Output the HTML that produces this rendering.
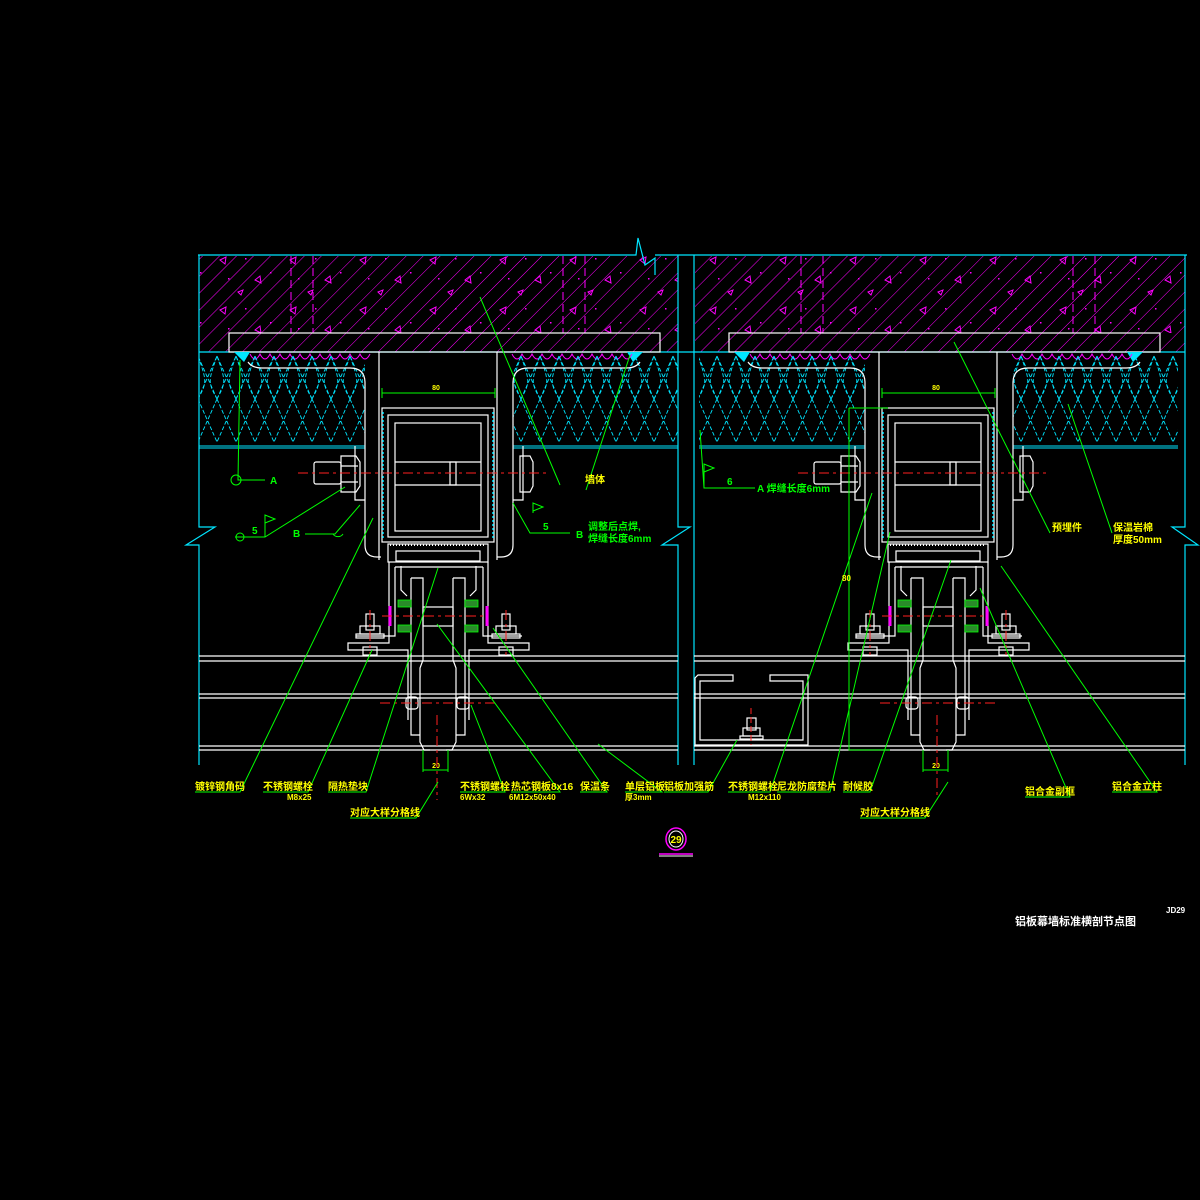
<!DOCTYPE html>
<html><head><meta charset="utf-8"><style>
html,body{margin:0;padding:0;background:#000;}
svg{display:block}
text{font-family:"Liberation Sans","Noto Sans CJK SC",sans-serif;font-weight:bold}
</style></head><body>
<svg width="1200" height="1200" viewBox="0 0 1200 1200" xmlns="http://www.w3.org/2000/svg">
<defs>
<pattern id="hatch" patternUnits="userSpaceOnUse" width="12" height="12" patternTransform="rotate(45)">
<line x1="0" y1="0" x2="0" y2="12" stroke="#ff00ff" stroke-width="1"/>
</pattern>
<pattern id="specks" patternUnits="userSpaceOnUse" width="70" height="50">
<path d="M10,10 l6,-3 l-1,7 z M45,30 l5,-4 l1,7 z M28,42 l5,-2 l-2,5 z" fill="none" stroke="#ff00ff" stroke-width="1"/>
<rect x="35" y="8" width="1.5" height="1.5" fill="#ff00ff"/><rect x="60" y="22" width="1.5" height="1.5" fill="#ff00ff"/><rect x="18" y="28" width="1.5" height="1.5" fill="#ff00ff"/>
</pattern>
<pattern id="ins" patternUnits="userSpaceOnUse" width="19" height="94" x="198" y="352">
<path d="M0,4 C9,30 9,30 0,47 C-9,64 -9,64 0,90 M19,4 C10,30 10,30 19,47 C28,64 28,64 19,90 M0,47 L19,4 M0,47 L19,90 M19,47 L0,4 M19,47 L0,90" stroke="#00e5ff" stroke-width="0.9" fill="none" stroke-dasharray="4,2"/>
</pattern>
<g id="mod">
 <rect x="229" y="333" width="431" height="19" fill="none" stroke="#fff" stroke-width="1.2"/>
 <path d="M234,352 l16,0 l-6,10 z M627,352 l16,0 l-10,10 z" fill="#00e5ff"/>
 <g stroke="#ff00ff" fill="none" stroke-width="1">
 <path d="M250,354 q5,10 10,0 q5,10 10,0 q5,10 10,0 q5,10 10,0 q5,10 10,0 q5,10 10,0 q5,10 10,0 q5,10 10,0 q5,10 10,0 q5,10 10,0 q5,10 10,0 q5,10 10,0"/>
 <path d="M512,354 q5,10 10,0 q5,10 10,0 q5,10 10,0 q5,10 10,0 q5,10 10,0 q5,10 10,0 q5,10 10,0 q5,10 10,0 q5,10 10,0 q5,10 10,0 q5,10 10,0 q5,10 10,0"/>
 </g>
 <rect x="199" y="354" width="166" height="92" fill="url(#ins)"/>
 <rect x="513" y="354" width="165" height="92" fill="url(#ins)"/>
 <line x1="199" y1="446" x2="365" y2="446" stroke="#00e5ff"/>
 <line x1="513" y1="446" x2="678" y2="446" stroke="#00e5ff"/>
 <line x1="199" y1="448" x2="365" y2="448" stroke="#00e5ff"/>
 <line x1="513" y1="448" x2="678" y2="448" stroke="#00e5ff"/>
 <g stroke="#fff" fill="none" stroke-width="1.2">
 <path d="M248,362 q4,6 14,6 L350,368 q15,0 15,15 L365,545 q0,12 12,12 L381,557"/>
 <path d="M640,362 q-4,6 -14,6 L528,368 q-15,0 -15,15 L513,545 q0,12 -12,12 L497,557"/>
 <path d="M355,446 L355,500 L365,500 M523,446 L523,500 L513,500"/>
 <line x1="379" y1="352" x2="379" y2="560"/>
 <line x1="497" y1="352" x2="497" y2="560"/>
 <rect x="314" y="462" width="27" height="22" rx="2"/>
 <path d="M341,456 l15,0 l4,6 l0,24 l-4,6 l-15,0 z"/>
 <line x1="341" y1="466" x2="358" y2="466"/><line x1="341" y1="482" x2="358" y2="482"/>
 <path d="M520,456 l10,0 l3,6 l0,24 l-3,6 l-10,0 z"/>
 <rect x="382" y="408" width="112" height="134"/>
 <rect x="388" y="415" width="100" height="122"/>
 <rect x="395" y="423" width="86" height="108"/>
 <line x1="395" y1="462" x2="481" y2="462"/><line x1="395" y1="485" x2="481" y2="485"/>
 <rect x="450" y="462" width="6" height="23"/>
 <rect x="388" y="544" width="100" height="18"/>
 <rect x="396" y="551" width="84" height="10"/>
 <path d="M389,562 L389,643 L348,643 L348,650 L408,650 L408,720"/>
 <path d="M488,562 L488,643 L529,643 L529,650 L469,650 L469,720"/>
 <path d="M395,567 L395,636 L356,636 M483,567 L483,636 L522,636"/>
 <path d="M395,567 L483,567"/>
 <path d="M401,566 L401,590 l6,6 M476,566 L476,590 l-6,6"/>
 <path d="M411,578 L423,578 L423,660 L420,668 L420,742 L424,750 L430,750 M411,578 L411,735 L420,735"/>
 <path d="M453,578 L465,578 L465,735 L456,735 M453,578 L453,660 L456,668 L456,742 L452,750 L446,750"/>
 <rect x="423" y="607" width="30" height="19"/>
 <rect x="366" y="614" width="8" height="16"/><rect x="360" y="626" width="20" height="8"/><rect x="356" y="634" width="28" height="4"/>
 <rect x="363" y="647" width="14" height="8"/>
 <rect x="502" y="614" width="8" height="16"/><rect x="496" y="626" width="20" height="8"/><rect x="492" y="634" width="28" height="4"/>
 <rect x="499" y="647" width="14" height="8"/>
 <rect x="406" y="697" width="12" height="12" rx="3"/><rect x="457" y="697" width="12" height="12" rx="3"/>
 </g>
 <g fill="#2a8a2a" stroke="#00ff00" stroke-width="0.8">
 <rect x="398" y="600" width="13" height="7"/><rect x="398" y="625" width="13" height="7"/>
 <rect x="465" y="600" width="13" height="7"/><rect x="465" y="625" width="13" height="7"/>
 </g>
 <path d="M390,606 l0,20 M487,606 l0,20" stroke="#ff00ff" stroke-width="3"/>
 <path d="M383,412 L383,540 M493,412 L493,540" stroke="#00e5ff" stroke-width="1.5" stroke-dasharray="2,2"/>
 <path d="M390,545 L486,545" stroke="#fff" stroke-width="2" stroke-dasharray="1,2"/>
 <g stroke="#00ff00" fill="none" stroke-width="1">
 <line x1="382" y1="393" x2="495" y2="393"/><line x1="382" y1="388" x2="382" y2="398"/><line x1="495" y1="388" x2="495" y2="398"/>
 <line x1="423" y1="770" x2="448" y2="770"/><line x1="423" y1="750" x2="423" y2="772"/><line x1="448" y1="750" x2="448" y2="772"/>
 </g>
 <text x="436" y="390" fill="#ffff00" font-size="7" text-anchor="middle">80</text>
 <text x="436" y="768" fill="#ffff00" font-size="7" text-anchor="middle">20</text>
 <g stroke="#ff2020" stroke-width="1" stroke-dasharray="10,4,3,4">
 <line x1="298" y1="473" x2="548" y2="473"/>
 <line x1="382" y1="616" x2="487" y2="616"/>
 <line x1="370" y1="610" x2="370" y2="655"/><line x1="506" y1="610" x2="506" y2="655"/>
 <line x1="380" y1="703" x2="495" y2="703"/>
 <line x1="437" y1="715" x2="437" y2="800"/>
 </g>
</g>
</defs>

<rect x="199" y="256" width="479" height="96" fill="url(#hatch)"/>
<rect x="695" y="256" width="490" height="96" fill="url(#hatch)"/>
<rect x="199" y="256" width="479" height="77" fill="url(#specks)"/>
<rect x="695" y="256" width="490" height="77" fill="url(#specks)"/>
<g stroke="#ff00ff" stroke-dasharray="8,4" stroke-width="1">
<line x1="291" y1="256" x2="291" y2="333"/><line x1="313" y1="256" x2="313" y2="333"/>
<line x1="563" y1="256" x2="563" y2="333"/><line x1="585" y1="256" x2="585" y2="333"/>
<line x1="801" y1="256" x2="801" y2="333"/><line x1="823" y1="256" x2="823" y2="333"/>
<line x1="1073" y1="256" x2="1073" y2="333"/><line x1="1095" y1="256" x2="1095" y2="333"/>
</g>
<g stroke="#00e5ff" fill="none" stroke-width="1.2">
<path d="M198,255 L636,255 L638,238 L645,265 L655,258 L655,275 M655,255 L1187,255"/>
<path d="M199,255 L199,527 L215,527 L186,545 L199,545 L199,765"/>
<path d="M1185,255 L1185,527 L1172,527 L1198,545 L1185,545 L1185,765"/>
<path d="M678,255 L678,527 L690,527 L662,545 L678,545 L678,765"/>
<line x1="694" y1="255" x2="694" y2="765"/>
<line x1="199" y1="352" x2="1185" y2="352"/>
</g>
<g stroke="#fff" stroke-width="1.2">
<line x1="199" y1="656" x2="678" y2="656"/><line x1="694" y1="656" x2="1185" y2="656"/>
<line x1="199" y1="661" x2="678" y2="661"/><line x1="694" y1="661" x2="1185" y2="661"/>
<line x1="199" y1="694" x2="678" y2="694"/><line x1="694" y1="694" x2="1185" y2="694"/>
<line x1="199" y1="698" x2="678" y2="698"/><line x1="694" y1="698" x2="1185" y2="698"/>
<line x1="199" y1="746" x2="678" y2="746"/><line x1="694" y1="746" x2="1185" y2="746"/>
<line x1="199" y1="750" x2="678" y2="750"/><line x1="694" y1="750" x2="1185" y2="750"/>
</g>
<use href="#mod"/>
<use href="#mod" transform="translate(500,0)"/>
<g stroke="#fff" fill="none" stroke-width="1.2">
<path d="M733,675 L698,675 L695,678 L695,745 L808,745 L808,675 L770,675 L770,681 L803,681 L803,740 L700,740 L700,681 L733,681 Z"/>
<rect x="747" y="718" width="9" height="12"/><rect x="743" y="728" width="17" height="8"/><rect x="740" y="736" width="23" height="3"/>
</g>
<line x1="751" y1="708" x2="751" y2="745" stroke="#ff2020" stroke-dasharray="6,3"/>
<g stroke="#00ff00" fill="none" stroke-width="1">
<path d="M240,360 L238,480 L265,480"/><circle cx="236" cy="480" r="5"/>
<path d="M235,537 L265,537 L345,487"/><circle cx="240" cy="537" r="4"/><path d="M265,537 L265,515 l10,4 l-10,4"/>
<path d="M305,534 L335,534 L360,505"/><path d="M333,534 a6,6 0 0 0 10,0"/>
<path d="M513,503 L530,533 L570,533"/><path d="M533,513 l0,-10 l10,4 l-10,4"/>
<path d="M700,430 L704,488 L755,488"/><path d="M704,488 L704,464 l10,4 l-10,4"/>
<line x1="560" y1="485" x2="480" y2="297"/>
<line x1="1050" y1="533" x2="954" y2="342"/>
<line x1="1112" y1="533" x2="1068" y2="404"/>
<line x1="586" y1="490" x2="630" y2="355"/>
<path d="M195,792 L240,792 L373,518"/>
<path d="M263,792 L308,792 L372,650"/>
<path d="M328,792 L366,792 L438,568"/>
<path d="M350,818 L416,818 L438,782"/>
<path d="M460,792 L505,792 L471,705"/>
<path d="M511,792 L560,792 L437,624"/>
<path d="M580,792 L607,792 L493,628"/>
<path d="M625,792 L662,792 L598,744"/>
<path d="M664,792 L708,792 L737,740"/>
<path d="M728,792 L770,792 L872,493"/>
<path d="M777,792 L830,792 L890,532"/>
<path d="M843,792 L870,792 L951,560"/>
<path d="M860,818 L925,818 L948,782"/>
<path d="M1025,797 L1070,797 L980,588"/>
<path d="M1112,792 L1157,792 L1001,566"/>
<path d="M849,408 L849,750 L890,750"/><line x1="849" y1="408" x2="888" y2="408"/>
</g>
<g fill="#ffff00" font-size="10">
<text x="195" y="790">镀锌钢角码</text>
<text x="263" y="790">不锈钢螺栓</text><text x="287" y="800" font-size="8">M8x25</text>
<text x="328" y="790">隔热垫块</text>
<text x="350" y="816">对应大样分格线</text>
<text x="460" y="790">不锈钢螺栓</text><text x="460" y="800" font-size="8">6Wx32</text>
<text x="511" y="790">热芯钢板8x16</text><text x="509" y="800" font-size="8">6M12x50x40</text>
<text x="580" y="790">保温条</text>
<text x="625" y="790">单层铝板</text><text x="625" y="800" font-size="8">厚3mm</text>
<text x="664" y="790">铝板加强筋</text>
<text x="728" y="790">不锈钢螺栓</text><text x="748" y="800" font-size="8">M12x110</text>
<text x="777" y="790">尼龙防腐垫片</text>
<text x="843" y="790">耐候胶</text>
<text x="860" y="816">对应大样分格线</text>
<text x="1025" y="795">铝合金副框</text>
<text x="1112" y="790">铝合金立柱</text>
<text x="585" y="483">墙体</text>
<text x="1052" y="531">预埋件</text>
<text x="1113" y="531">保温岩棉</text><text x="1113" y="543">厚度50mm</text>
<text x="842" y="581" font-size="8">80</text>
</g>
<g fill="#00ff00" font-size="10">
<text x="270" y="484">A</text><text x="252" y="534">5</text><text x="293" y="537">B</text>
<text x="543" y="530">5</text><text x="576" y="538">B</text>
<text x="588" y="530">调整后点焊,</text><text x="588" y="542">焊缝长度6mm</text>
<text x="727" y="485">6</text><text x="757" y="492">A 焊缝长度6mm</text>
</g>
<ellipse cx="676" cy="839" rx="10" ry="11" fill="none" stroke="#ff00ff" stroke-width="1.5"/>
<ellipse cx="676" cy="839" rx="7" ry="8" fill="none" stroke="#fff"/>
<text x="676" y="843" fill="#ffff00" font-size="10" text-anchor="middle">29</text>
<line x1="659" y1="854" x2="693" y2="854" stroke="#ff00ff" stroke-width="1.5"/>
<line x1="659" y1="856" x2="693" y2="856" stroke="#fff"/>
<text x="1015" y="925" fill="#fff" font-size="11">铝板幕墙标准横剖节点图</text>
<text x="1166" y="913" fill="#fff" font-size="8">JD29</text>
</svg>
</body></html>
